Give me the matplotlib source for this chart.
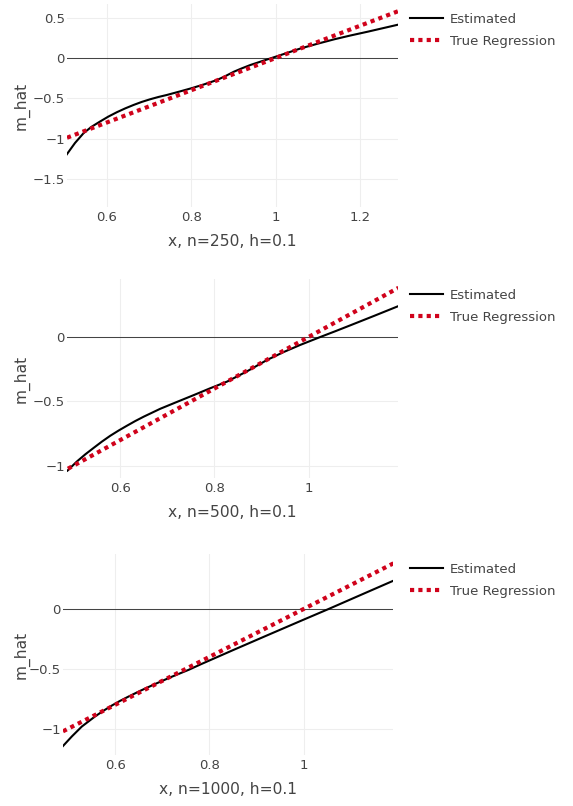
import matplotlib
matplotlib.use("Agg")
import matplotlib.pyplot as plt
from matplotlib.ticker import FixedLocator, FuncFormatter

plt.rcParams['font.family'] = ['DejaVu Sans']

# ---- data ----
x_est_250 = [0.504, 0.524, 0.544, 0.563, 0.583, 0.603, 0.623, 0.643, 0.663, 0.682, 0.702, 0.722, 0.742, 0.771,
             0.80, 0.83, 0.861, 0.881, 0.901, 0.920, 0.940, 0.970, 1.0, 1.03, 1.06, 1.10, 1.139, 1.178, 1.218, 1.256, 1.294]
y_est_250 = [-1.20, -1.055, -0.935, -0.855, -0.79, -0.728, -0.674, -0.626, -0.583, -0.546, -0.513, -0.484, -0.459, -0.418,
             -0.376, -0.328, -0.273, -0.224, -0.17, -0.128, -0.087, -0.035, 0.016, 0.068, 0.12, 0.178, 0.232, 0.280, 0.326, 0.372, 0.418]
x_true_250 = [0.505, 1.0, 1.294]
y_true_250 = [-0.99, 0.0, 0.588]

x_est_500 = [0.488, 0.508, 0.526, 0.543, 0.561, 0.579, 0.597, 0.614, 0.632, 0.650, 0.685, 0.721, 0.756, 0.791,
             0.827, 0.870, 0.912, 0.947, 0.982, 1.025, 1.057, 1.089, 1.14, 1.191]
y_est_500 = [-1.037, -0.966, -0.910, -0.862, -0.812, -0.766, -0.725, -0.689, -0.652, -0.618, -0.557, -0.503, -0.451, -0.398,
             -0.346, -0.265, -0.178, -0.117, -0.062, 0.0, 0.045, 0.091, 0.165, 0.240]
x_true_500 = [0.489, 1.0, 1.191]
y_true_500 = [-1.022, 0.0, 0.382]

x_est_1000 = [0.488, 0.508, 0.529, 0.557, 0.575, 0.593, 0.610, 0.628, 0.655, 0.685, 0.720, 0.756, 0.781, 0.851,
              0.922, 1.0, 1.053, 1.135, 1.191]
y_est_1000 = [-1.149, -1.064, -0.982, -0.898, -0.850, -0.806, -0.768, -0.732, -0.680, -0.626, -0.566, -0.508, -0.463, -0.342,
              -0.221, -0.089, 0.0, 0.141, 0.237]
x_true_1000 = [0.489, 1.0, 1.191]
y_true_1000 = [-1.022, 0.0, 0.382]

xlabels = ["x, n=250, h=0.1", "x, n=500, h=0.1", "x, n=1000, h=0.1"]
xticks_list = [[0.6, 0.8, 1.0, 1.2], [0.6, 0.8, 1.0], [0.6, 0.8, 1.0]]
yticks_list = [[0.5, 0, -0.5, -1, -1.5], [0, -0.5, -1], [0, -0.5, -1]]
xlims = [(0.505, 1.29), (0.487, 1.19), (0.489, 1.19)]
ylims = [(-1.85, 0.67), (-1.094, 0.45), (-1.22, 0.46)]

panels = [
    (x_est_250, y_est_250, x_true_250, y_true_250),
    (x_est_500, y_est_500, x_true_500, y_true_500),
    (x_est_1000, y_est_1000, x_true_1000, y_true_1000),
]

W, H = 573, 806
fig = plt.figure(figsize=(W / 100, H / 100), dpi=100)

# axes boxes in pixels: left, top, right, bottom
boxes = [(67, 4, 398, 207), (67, 279, 398, 478), (63, 554, 393, 755)]
legend_tops = [13, 289, 563]

TXT = '#444444'


def fmt(v, pos=None):
    s = ('%g' % round(v, 3))
    return s.replace('-', '\u2212')


for i, (xe, ye, xt, yt) in enumerate(panels):
    l, t, r, b = boxes[i]
    ax = fig.add_axes([l / W, 1 - b / H, (r - l) / W, (b - t) / H])
    for s in ax.spines.values():
        s.set_visible(False)
    ax.set_xlim(*xlims[i])
    ax.set_ylim(*ylims[i])
    ax.xaxis.set_major_locator(FixedLocator(xticks_list[i]))
    ax.yaxis.set_major_locator(FixedLocator(yticks_list[i]))
    ax.xaxis.set_major_formatter(FuncFormatter(fmt))
    ax.yaxis.set_major_formatter(FuncFormatter(fmt))
    ax.tick_params(axis='both', length=0, labelsize=9.5, labelcolor=TXT)
    ax.tick_params(axis='y', pad=1.5)
    ax.tick_params(axis='x', pad=3)
    ax.grid(True, color='#eeeeee', linewidth=0.75)
    ax.set_axisbelow(True)
    ax.axhline(0, color='#444444', linewidth=0.75, zorder=1.5)
    ax.plot(xe, ye, color='black', linewidth=1.5, label='Estimated', zorder=3)
    ax.plot(xt, yt, color='#d0021b', linewidth=3.0, linestyle=(0, (1, 1)),
            dash_capstyle='butt', label='True Regression', zorder=4)
    ax.set_xlabel(xlabels[i], fontsize=11.2, color=TXT, labelpad=7)
    ax.set_ylabel('m_hat', fontsize=11.2, color=TXT)
    ax.yaxis.set_label_coords(-(l - 30) / (r - l), 0.5)
    leg = ax.legend(loc='upper left', bbox_to_anchor=(410 / W, 1 - legend_tops[i] / H),
                    bbox_transform=fig.transFigure, frameon=False, fontsize=9.5,
                    handlelength=2.5, handletextpad=0.55, labelspacing=0.65,
                    borderaxespad=0, borderpad=0)
    for txt in leg.get_texts():
        txt.set_color(TXT)

fig.savefig('out.png', dpi=100)
